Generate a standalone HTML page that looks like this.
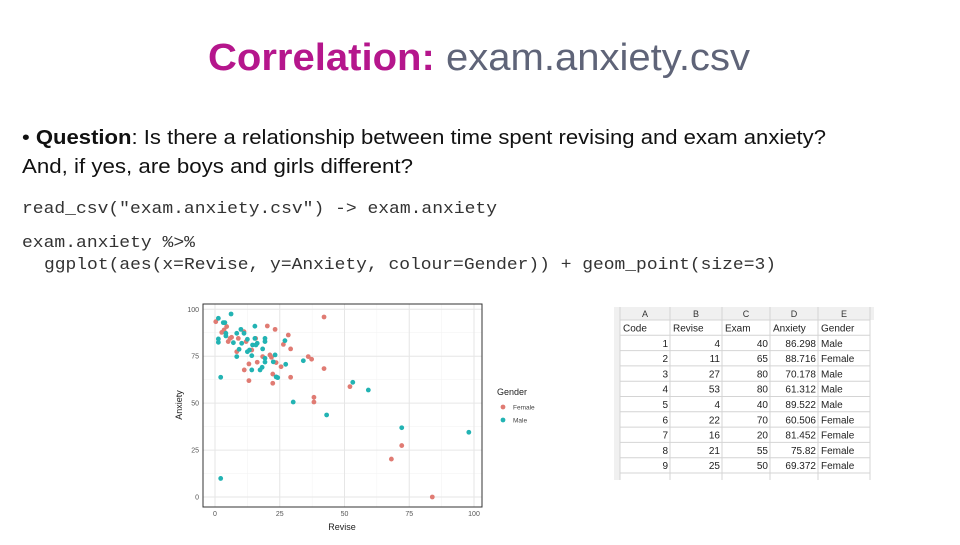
<!DOCTYPE html>
<html><head><meta charset="utf-8"><style>
body{margin:0;background:#fff;width:960px;height:540px;overflow:hidden;font-family:"Liberation Sans",sans-serif}
</style></head><body>
<svg width="960" height="540" viewBox="0 0 960 540">
<g>
<text x="208" y="70" font-size="38" font-weight="bold" textLength="542" lengthAdjust="spacingAndGlyphs" font-family="Liberation Sans Narrow, Liberation Sans, sans-serif"><tspan fill="#b5168c">Correlation: </tspan><tspan fill="#5f6478" font-weight="normal">exam.anxiety.csv</tspan></text>
</g>
<g fill="#111" font-size="20">
<text x="22" y="144" textLength="804" lengthAdjust="spacingAndGlyphs">• <tspan font-weight="bold">Question</tspan>: Is there a relationship between time spent revising and exam anxiety?</text>
<text x="22" y="173" textLength="391" lengthAdjust="spacingAndGlyphs">And, if yes, are boys and girls different?</text>
</g>
<g font-family="Liberation Mono, monospace" font-size="17" fill="#333">
<text x="22" y="213" textLength="475" lengthAdjust="spacingAndGlyphs">read_csv("exam.anxiety.csv") -&gt; exam.anxiety</text>
<text x="22" y="247" textLength="173" lengthAdjust="spacingAndGlyphs">exam.anxiety %&gt;%</text>
<text x="44" y="269" textLength="732" lengthAdjust="spacingAndGlyphs">ggplot(aes(x=Revise, y=Anxiety, colour=Gender)) + geom_point(size=3)</text>
</g>
<g id="chart"></g>
<g id="sheet"></g>
</svg>
<script>
const maleRevise=[1.3,6.2,3.2,3.8,1.3,1.3,4.2,4.2,7.1,8.4,8.4,9.3,10,10.3,11.2,12.5,12.5,13.3,14.2,14.2,14.5,15.4,15.8,16.3,15.4,17.4,18.2,18.4,19.3,19.3,19.3,19.3,22.5,23.2,23.6,24.2,27,27.3,34.1,30.2,43.1,53.2,59.2,72.1,98,2.2,2.2];
const maleAnxiety=[95.2,97.5,92.9,92.9,84.2,82.4,87.2,85.8,82.2,87.2,74.8,78.7,89.3,81.9,87.2,84,77.4,78.3,75.3,67.7,81,91,81,81.9,84.5,67.7,69.1,78.9,82.8,84.5,73.9,71.9,72,75.7,64,63.6,83.3,70.7,72.6,50.6,43.7,61.1,57,36.9,34.5,63.8,9.9];
const femaleRevise=[0.3,2.6,3.5,4.5,5.1,5.8,6.4,8.4,9,11.2,11.3,12,13.1,13.1,14.2,15.7,16.3,18.4,20.2,21.2,21.8,22.3,22.3,23.2,23.6,25.5,26.4,28.3,29.2,29.2,36,37.3,38.2,38.2,42.1,42.1,52.1,68.1,72.1,83.9];
const femaleAnxiety=[93.4,87.7,89,90.8,82.8,84.5,85.1,77.4,84.5,88.1,67.7,82.8,62,70.9,78.3,84.5,71.8,74.8,91.1,75.7,74.4,65.5,60.6,89.3,71.6,69.4,81.3,86.3,78.9,63.8,74.8,73.4,53.1,50.6,95.9,68.4,58.8,20.2,27.4,0];
const xTicks=[0,25,50,75,100];
const yTicks=[0,25,50,75,100];
const NS="http://www.w3.org/2000/svg";
const chart=document.getElementById('chart');
const L=203,R=482,T=304,B=507;
const sx=v=>215+v*2.59, sy=v=>497-v*1.877;
function mk(tag,at,parent){const e=document.createElementNS(NS,tag);for(const k in at)e.setAttribute(k,at[k]);parent.appendChild(e);return e;}
const bg=mk('rect',{x:L,y:T,width:R-L,height:B-T,fill:'#fff'},chart);


[12.5,37.5,62.5,87.5].forEach(v=>{mk('line',{x1:sx(v),x2:sx(v),y1:T,y2:B,stroke:'#f2f2f2','stroke-width':0.5},chart);mk('line',{y1:sy(v),y2:sy(v),x1:L,x2:R,stroke:'#f2f2f2','stroke-width':0.5},chart);});
xTicks.forEach(v=>{const l=mk('line',{x1:sx(v),x2:sx(v),y1:T,y2:B,stroke:'#e6e6e6','stroke-width':1},chart);
const t=mk('text',{x:sx(v),y:B+9,'font-size':7,fill:'#555','text-anchor':'middle'},chart);t.textContent=v;});
yTicks.forEach(v=>{const l=mk('line',{y1:sy(v),y2:sy(v),x1:L,x2:R,stroke:'#e6e6e6','stroke-width':1},chart);
const t=mk('text',{x:L-4,y:sy(v)+2.5,'font-size':7,fill:'#555','text-anchor':'end'},chart);t.textContent=v;});
const fr=mk('rect',{x:L,y:T,width:R-L,height:B-T,fill:'none',stroke:'#333','stroke-width':1},chart);


function pts(xs,ys,col,name){xs.forEach((x,i)=>{const c=mk('circle',{cx:sx(x),cy:sy(ys[i]),r:2.4,fill:col},chart);});}
pts(femaleRevise,femaleAnxiety,'#e07b73','point-female');
pts(maleRevise,maleAnxiety,'#22b3b3','point-male');
let t=mk('text',{x:342,y:530,'font-size':9,fill:'#222','text-anchor':'middle'},chart);t.textContent='Revise';


t=mk('text',{x:0,y:0,'font-size':9,fill:'#222','text-anchor':'middle',transform:'translate(182,405) rotate(-90)'},chart);t.textContent='Anxiety';


t=mk('text',{x:497,y:395,'font-size':9,fill:'#222'},chart);t.textContent='Gender';


[['Female','#e07b73',407],['Male','#22b3b3',420]].forEach(([n,c,y])=>{const g=mk('g',{},chart);mk('circle',{cx:503,cy:y,r:2.4,fill:c},g);const tt=mk('text',{x:513,y:y+2.5,'font-size':6.5,fill:'#444'},g);tt.textContent=n;});
// spreadsheet
const sheet=document.getElementById('sheet');
const colX=[620,670,722,770,818,870];
const head=['A','B','C','D','E'];
const rows=[['Code','Revise','Exam','Anxiety','Gender'],['1','4','40','86.298','Male'],['2','11','65','88.716','Female'],['3','27','80','70.178','Male'],['4','53','80','61.312','Male'],['5','4','40','89.522','Male'],['6','22','70','60.506','Female'],['7','16','20','81.452','Female'],['8','21','55','75.82','Female'],['9','25','50','69.372','Female']];
mk('rect',{x:614,y:307,width:260,height:13,fill:'#f0f0f0'},sheet);
mk('rect',{x:614,y:307,width:6,height:173,fill:'#f0f0f0'},sheet);
const top0=320,rh=15.3;
for(let i=0;i<=rows.length;i++)mk('line',{x1:620,x2:870,y1:top0+i*rh,y2:top0+i*rh,stroke:'#d4d4d4','stroke-width':1},sheet);
colX.forEach(x=>mk('line',{x1:x,x2:x,y1:307,y2:480,stroke:'#d4d4d4','stroke-width':1},sheet));
head.forEach((h,i)=>{const e=mk('text',{x:(colX[i]+colX[i+1])/2,y:317,'font-size':9,fill:'#333','text-anchor':'middle'},sheet);e.textContent=h;});
rows.forEach((r,ri)=>{r.forEach((v,ci)=>{const left=ri===0||ci===4;const e=mk('text',{x:left?colX[ci]+3:colX[ci+1]-2,y:top0+ri*rh+11.5,'font-size':10,fill:'#222','text-anchor':left?'start':'end'},sheet);e.textContent=v;});});
</script>
</body></html>
